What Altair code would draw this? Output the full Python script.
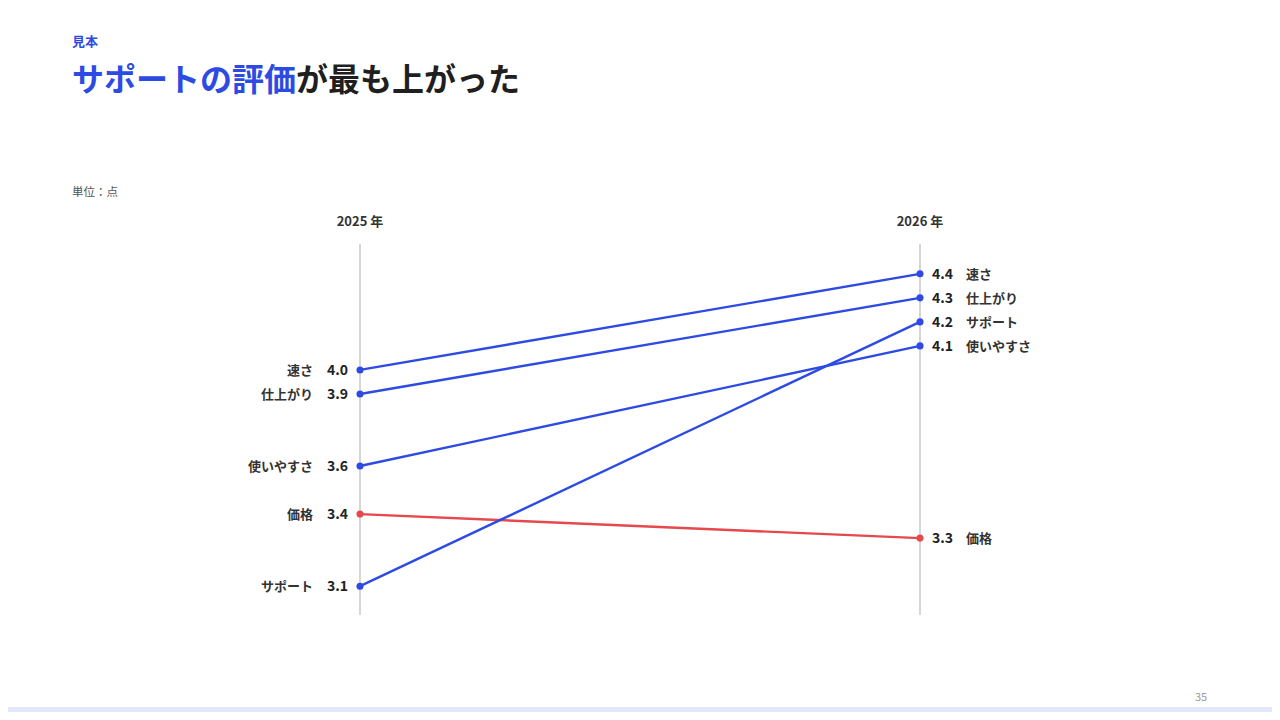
import altair as alt
import pandas as pd

FONT = "Noto Sans CJK JP"
BLUE = "#2D4BE3"
RED = "#E5484D"

categories = ["速さ", "仕上がり", "使いやすさ", "価格", "サポート"]
values_2025 = [4.0, 3.9, 3.6, 3.4, 3.1]
values_2026 = [4.4, 4.3, 4.1, 3.3, 4.2]
years = [2025, 2026]
year_labels = ["2025 年", "2026 年"]
groups = ["up", "up", "up", "down", "up"]

rows = []
for c, a, b, g in zip(categories, values_2025, values_2026, groups):
    rows.append({"category": c, "year": years[0], "value": a, "group": g, "label": f"{a:.1f}"})
    rows.append({"category": c, "year": years[1], "value": b, "group": g, "label": f"{b:.1f}"})
df = pd.DataFrame(rows)
years_df = pd.DataFrame({"year": years, "ylabel": year_labels})

W, H = 1264, 704
xs = alt.Scale(domain=[2025, 2026], range=[352, 912], nice=False, zero=False)
ys = alt.Scale(domain=[2.98, 4.52], range=[607, 237], nice=False, zero=False)
X = alt.X("year:Q", scale=xs, axis=None)
Y = alt.Y("value:Q", scale=ys, axis=None)
col = alt.Color("group:N", scale=alt.Scale(domain=["up", "down"], range=[BLUE, RED]), legend=None)

rules = alt.Chart(years_df).mark_rule(color="#CCCCCC", strokeWidth=1.6).encode(
    x=X, y=alt.value(236), y2=alt.value(607)
)
yhead = alt.Chart(years_df).mark_text(font=FONT, fontSize=13, fontWeight="bold", color="#333333", baseline="middle").encode(
    x=X, y=alt.value(214), text="ylabel:N"
)
lines = alt.Chart(df).mark_line(strokeWidth=2.4).encode(x=X, y=Y, color=col, detail="category:N")
pts = alt.Chart(df).mark_circle(size=50, opacity=1).encode(x=X, y=Y, color=col)

left = alt.Chart(df).transform_filter("datum.year == 2025")
right = alt.Chart(df).transform_filter("datum.year == 2026")
lval = left.mark_text(font=FONT, fontSize=14, fontWeight="bold", color="#222222", align="right", dx=-12, dy=1, baseline="middle").encode(x=X, y=Y, text="label:N")
lname = left.mark_text(font=FONT, fontSize=13, fontWeight="bold", color="#333333", align="right", dx=-47, dy=1, baseline="middle").encode(x=X, y=Y, text="category:N")
rval = right.mark_text(font=FONT, fontSize=14, fontWeight="bold", color="#222222", align="left", dx=12, dy=1, baseline="middle").encode(x=X, y=Y, text="label:N")
rname = right.mark_text(font=FONT, fontSize=13, fontWeight="bold", color="#333333", align="left", dx=46, dy=1, baseline="middle").encode(x=X, y=Y, text="category:N")

one = pd.DataFrame({"k": [0]})
kicker = alt.Chart(one).mark_text(font=FONT, fontSize=13, fontWeight="bold", color=BLUE, align="left", baseline="middle").encode(
    x=alt.value(64), y=alt.value(34), text=alt.value("見本"))
t1 = alt.Chart(one).mark_text(font=FONT, fontSize=32, fontWeight="bold", color=BLUE, align="left", baseline="middle").encode(
    x=alt.value(64), y=alt.value(73), text=alt.value("サポートの評価"))
t2 = alt.Chart(one).mark_text(font=FONT, fontSize=32, fontWeight="bold", color="#1F1F1F", align="left", baseline="middle").encode(
    x=alt.value(288), y=alt.value(73), text=alt.value("が最も上がった"))
unit = alt.Chart(one).mark_text(font=FONT, fontSize=11.5, color="#555555", align="left", baseline="middle").encode(
    x=alt.value(64), y=alt.value(185), text=alt.value("単位：点"))
page = alt.Chart(one).mark_text(font=FONT, fontSize=11, color="#9A9A9A", align="center", baseline="middle").encode(
    x=alt.value(1193), y=alt.value(690), text=alt.value("35"))
strip = alt.Chart(one).mark_rect(color="#E3E8FA").encode(
    x=alt.value(-8), x2=alt.value(1272), y=alt.value(699), y2=alt.value(704))

chart = alt.layer(
    strip, rules, yhead, lines, pts, lval, lname, rval, rname, kicker, t1, t2, unit, page
).properties(
    width=W, height=H, autosize=alt.AutoSizeParams(type="none"), padding=0, background="white"
).configure_view(strokeWidth=0, stroke="transparent")

chart.save("out.html", embed_options={"renderer": "svg", "actions": False})
